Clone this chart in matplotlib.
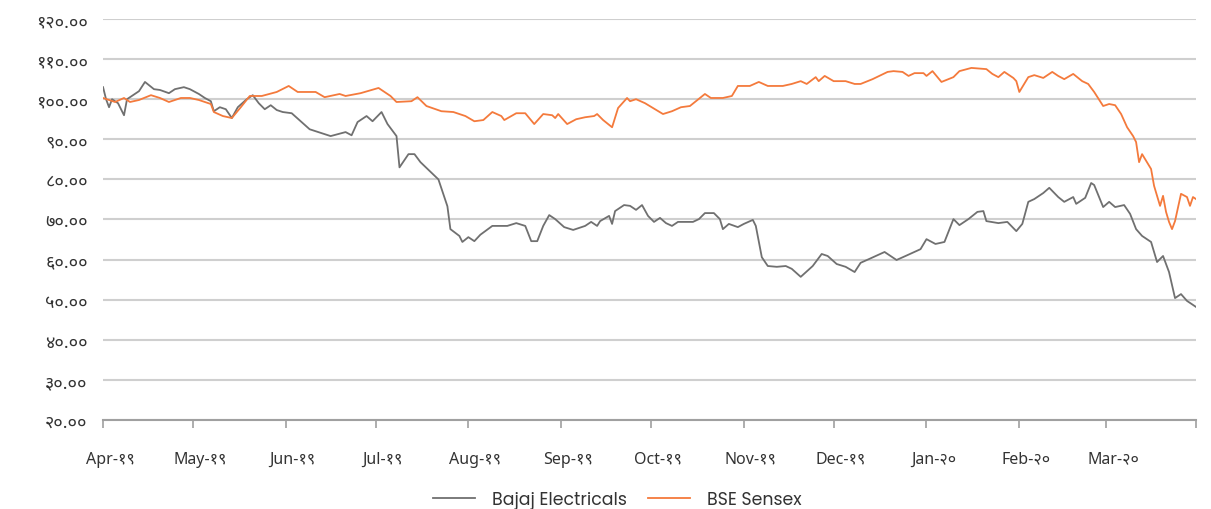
import matplotlib
matplotlib.use('Agg')
import matplotlib.pyplot as plt
import matplotlib.transforms as mtransforms
import pandas as pd

# Bajaj Electricals vs BSE Sensex, indexed
bajaj_dates = [
    '2019-04-01', '2019-04-02', '2019-04-03', '2019-04-04', '2019-04-06', '2019-04-08', '2019-04-09',
    '2019-04-11', '2019-04-13', '2019-04-15', '2019-04-18', '2019-04-20', '2019-04-23', '2019-04-25',
    '2019-04-28', '2019-04-30', '2019-05-03', '2019-05-05', '2019-05-07', '2019-05-08', '2019-05-10',
    '2019-05-12', '2019-05-14', '2019-05-16', '2019-05-19', '2019-05-21', '2019-05-23', '2019-05-25',
    '2019-05-27', '2019-05-29', '2019-05-31', '2019-06-03', '2019-06-09', '2019-06-16', '2019-06-21',
    '2019-06-23', '2019-06-25', '2019-06-28', '2019-06-30', '2019-07-03', '2019-07-05', '2019-07-08',
    '2019-07-09', '2019-07-12', '2019-07-14', '2019-07-16', '2019-07-22', '2019-07-25', '2019-07-26',
    '2019-07-29', '2019-07-30', '2019-08-01', '2019-08-03', '2019-08-05', '2019-08-09', '2019-08-12',
    '2019-08-14', '2019-08-17', '2019-08-20', '2019-08-22', '2019-08-24', '2019-08-26', '2019-08-28',
    '2019-08-30', '2019-09-02', '2019-09-05', '2019-09-09', '2019-09-11', '2019-09-13', '2019-09-14',
    '2019-09-17', '2019-09-18', '2019-09-19', '2019-09-22', '2019-09-24', '2019-09-26', '2019-09-28',
    '2019-09-30', '2019-10-02', '2019-10-04', '2019-10-06', '2019-10-08', '2019-10-10', '2019-10-15',
    '2019-10-17', '2019-10-19', '2019-10-22', '2019-10-24', '2019-10-25', '2019-10-27', '2019-10-30',
    '2019-11-01', '2019-11-04', '2019-11-05', '2019-11-07', '2019-11-09', '2019-11-12', '2019-11-15',
    '2019-11-17', '2019-11-20', '2019-11-24', '2019-11-27', '2019-11-29', '2019-12-02', '2019-12-05',
    '2019-12-08', '2019-12-10', '2019-12-13', '2019-12-18', '2019-12-22', '2019-12-25', '2019-12-30',
    '2020-01-01', '2020-01-04', '2020-01-07', '2020-01-10', '2020-01-12', '2020-01-15', '2020-01-18',
    '2020-01-20', '2020-01-21', '2020-01-25', '2020-01-28', '2020-01-31', '2020-02-02', '2020-02-04',
    '2020-02-06', '2020-02-09', '2020-02-11', '2020-02-14', '2020-02-16', '2020-02-19', '2020-02-20',
    '2020-02-23', '2020-02-25', '2020-02-26', '2020-02-29', '2020-03-02', '2020-03-04', '2020-03-07',
    '2020-03-09', '2020-03-11', '2020-03-13', '2020-03-16', '2020-03-18', '2020-03-20', '2020-03-22',
    '2020-03-24', '2020-03-26', '2020-03-28', '2020-03-31',
]
bajaj_vals = [
    103.0, 100.0, 98.0, 100.0, 99.0, 96.0, 100.0,
    101.0, 102.0, 104.3, 102.5, 102.3, 101.5, 102.5,
    103.0, 102.5, 101.3, 100.3, 99.5, 97.0, 98.0,
    97.5, 95.3, 98.0, 100.0, 101.0, 99.0, 97.5,
    98.5, 97.3, 96.8, 96.5, 92.5, 90.8, 91.8,
    91.0, 94.3, 95.8, 94.5, 96.8, 93.8, 90.8,
    83.0, 86.3, 86.3, 84.3, 80.0, 73.3, 67.6,
    65.9, 64.4, 65.6, 64.6, 66.2, 68.4, 68.4,
    68.4, 69.1, 68.4, 64.6, 64.6, 68.4, 71.1,
    70.1, 68.1, 67.4, 68.4, 69.4, 68.4, 69.6,
    70.9, 68.9, 72.1, 73.6, 73.4, 72.4, 73.6,
    70.9, 69.4, 70.4, 69.1, 68.4, 69.4, 69.4,
    70.1, 71.6, 71.6, 70.1, 67.6, 68.9, 68.1,
    68.9, 69.9, 68.4, 60.6, 58.4, 58.2, 58.4,
    57.7, 55.7, 58.4, 61.4, 60.9, 58.9, 58.2,
    56.9, 59.2, 60.2, 61.9, 59.9, 60.9, 62.6,
    65.1, 63.9, 64.4, 70.1, 68.6, 70.1, 71.9,
    72.1, 69.6, 69.1, 69.4, 67.1, 68.9, 74.4,
    75.1, 76.6, 77.9, 75.6, 74.4, 75.6, 73.9,
    75.4, 79.1, 78.6, 73.1, 74.4, 73.1, 73.6,
    71.4, 67.6, 65.9, 64.4, 59.4, 60.9, 56.9,
    50.4, 51.4, 49.7, 48.2,
]

sensex_dates = [
    '2019-04-01', '2019-04-05', '2019-04-08', '2019-04-10', '2019-04-13', '2019-04-17', '2019-04-20',
    '2019-04-23', '2019-04-27', '2019-04-30', '2019-05-03', '2019-05-07', '2019-05-08', '2019-05-11',
    '2019-05-14', '2019-05-17', '2019-05-20', '2019-05-24', '2019-05-29', '2019-06-02', '2019-06-05',
    '2019-06-11', '2019-06-14', '2019-06-19', '2019-06-21', '2019-06-26', '2019-07-02', '2019-07-06',
    '2019-07-08', '2019-07-13', '2019-07-15', '2019-07-18', '2019-07-23', '2019-07-27', '2019-07-31',
    '2019-08-03', '2019-08-06', '2019-08-09', '2019-08-12', '2019-08-13', '2019-08-17', '2019-08-20',
    '2019-08-23', '2019-08-26', '2019-08-29', '2019-08-30', '2019-08-31', '2019-09-03', '2019-09-06',
    '2019-09-09', '2019-09-12', '2019-09-13', '2019-09-15', '2019-09-18', '2019-09-20', '2019-09-23',
    '2019-09-24', '2019-09-26', '2019-09-29', '2019-10-05', '2019-10-08', '2019-10-11', '2019-10-14',
    '2019-10-16', '2019-10-19', '2019-10-21', '2019-10-25', '2019-10-28', '2019-10-30', '2019-11-03',
    '2019-11-06', '2019-11-09', '2019-11-14', '2019-11-17', '2019-11-20', '2019-11-22', '2019-11-25',
    '2019-11-26', '2019-11-28', '2019-12-01', '2019-12-05', '2019-12-08', '2019-12-10', '2019-12-14',
    '2019-12-19', '2019-12-21', '2019-12-24', '2019-12-26', '2019-12-28', '2019-12-31', '2020-01-01',
    '2020-01-03', '2020-01-06', '2020-01-10', '2020-01-12', '2020-01-16', '2020-01-21', '2020-01-23',
    '2020-01-25', '2020-01-27', '2020-01-30', '2020-01-31', '2020-02-01', '2020-02-04', '2020-02-06',
    '2020-02-09', '2020-02-12', '2020-02-14', '2020-02-16', '2020-02-19', '2020-02-22', '2020-02-24',
    '2020-02-26', '2020-02-29', '2020-03-02', '2020-03-04', '2020-03-06', '2020-03-08', '2020-03-10',
    '2020-03-11', '2020-03-12', '2020-03-13', '2020-03-16', '2020-03-17', '2020-03-19', '2020-03-20',
    '2020-03-21', '2020-03-22', '2020-03-23', '2020-03-24', '2020-03-26', '2020-03-28', '2020-03-29',
    '2020-03-30', '2020-03-31',
]
sensex_vals = [
    100.3, 99.3, 100.3, 99.3, 99.8, 101.0, 100.3,
    99.3, 100.3, 100.3, 99.8, 98.8, 96.8, 95.8,
    95.3, 98.0, 100.8, 100.8, 101.8, 103.3, 101.8,
    101.8, 100.5, 101.3, 100.8, 101.5, 102.8, 100.8,
    99.3, 99.5, 100.5, 98.3, 97.0, 96.8, 95.8,
    94.5, 94.8, 96.8, 95.8, 94.8, 96.5, 96.5,
    93.8, 96.3, 96.0, 95.3, 96.3, 93.8, 95.0,
    95.5, 95.8, 96.3, 94.8, 93.0, 97.8, 100.3,
    99.5, 100.0, 99.0, 96.3, 97.0, 98.0, 98.3,
    99.5, 101.3, 100.3, 100.3, 100.8, 103.3, 103.3,
    104.3, 103.3, 103.3, 103.8, 104.5, 103.8, 105.5,
    104.5, 105.8, 104.5, 104.5, 103.8, 103.8, 105.0,
    106.8, 107.0, 106.8, 105.8, 106.5, 106.5, 105.8,
    107.0, 104.3, 105.5, 107.0, 107.8, 107.5, 106.3,
    105.5, 106.8, 105.3, 104.5, 101.8, 105.5, 106.0,
    105.3, 106.8, 105.8, 105.0, 106.3, 104.5, 103.8,
    101.8, 98.3, 98.8, 98.5, 96.3, 93.0, 90.8,
    89.3, 84.3, 86.3, 82.6, 78.4, 73.4, 75.9,
    71.9, 69.4, 67.6, 69.6, 76.4, 75.6, 73.4,
    75.6, 75.1,
]

month_starts = pd.date_range('2019-04-01', '2020-03-01', freq='MS')
month_labels = ['Apr-१९', 'May-१९', 'Jun-१९', 'Jul-१९', 'Aug-१९', 'Sep-१९',
                'Oct-१९', 'Nov-१९', 'Dec-१९', 'Jan-२०', 'Feb-२०', 'Mar-२०']
y_ticks = [20, 30, 40, 50, 60, 70, 80, 90, 100, 110, 120]

DEVA = str.maketrans('0123456789', '०१२३४५६७८९')
# devanagari digits from a devanagari face, latin letters from a geometric sans
TICK_FONT = ['Noto Sans Devanagari', 'Poppins', 'DejaVu Sans']
plt.rcParams['font.family'] = ['Poppins', 'DejaVu Sans']

GRAY = '#707070'
ORANGE = '#f47a3c'
TEXT = '#333333'

fig = plt.figure(figsize=(12.11, 5.10), dpi=100)
ax = fig.add_axes([0.0851, 0.1745, 0.9025, 0.7863])

ax.plot(pd.to_datetime(bajaj_dates), bajaj_vals, color=GRAY, lw=1.3, label='Bajaj Electricals')
ax.plot(pd.to_datetime(sensex_dates), sensex_vals, color=ORANGE, lw=1.3, label='BSE Sensex')

end = pd.Timestamp('2020-03-31')
ax.set_xlim(pd.Timestamp('2019-04-01'), end)
ax.set_ylim(20, 120)

ax.set_yticks(y_ticks)
ax.set_yticklabels([('%.2f' % v).translate(DEVA) for v in y_ticks], family=TICK_FONT)
ax.tick_params(axis='y', length=0, pad=11, labelsize=13, labelcolor=TEXT)

ax.set_xticks(list(month_starts) + [end])
ax.set_xticklabels(month_labels + [''], family=TICK_FONT)
ax.tick_params(axis='x', length=6, width=1.2, color='#a0a0a0', pad=16,
               labelsize=11.5, labelcolor=TEXT)
shift = mtransforms.ScaledTranslation(7 / 100, 0, fig.dpi_scale_trans)
for lab in ax.get_xticklabels():
    lab.set_transform(lab.get_transform() + shift)

ax.grid(axis='y', color='#cfcfcf', lw=1.5)
ax.set_axisbelow(True)
for s in ['left', 'right', 'top']:
    ax.spines[s].set_visible(False)
ax.spines['bottom'].set_color('#a0a0a0')
ax.spines['bottom'].set_linewidth(1.5)

fig.legend(loc='lower center', bbox_to_anchor=(0.51, -0.03), ncol=2, frameon=False,
           fontsize=12.5, handlelength=2.4, handletextpad=1.0, columnspacing=1.2,
           labelcolor=TEXT)

fig.savefig('out.png', dpi=100)
